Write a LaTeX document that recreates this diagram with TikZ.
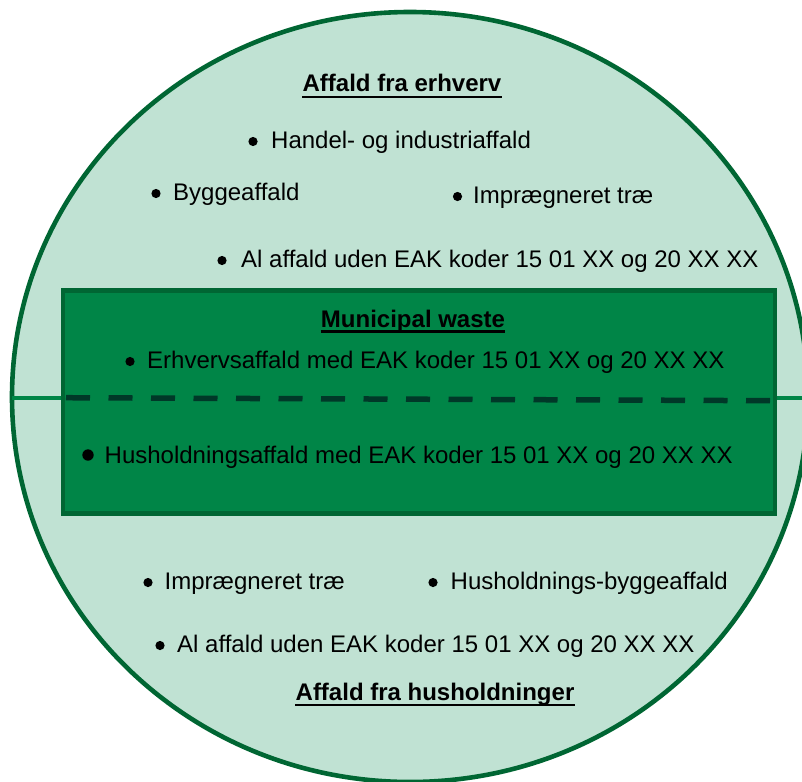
\documentclass[tikz,border=0pt]{standalone}
\usepackage{fontspec}
\setmainfont{Liberation Sans}
\definecolor{lightgreen}{RGB}{192,226,211}
\definecolor{darkgreen}{RGB}{0,102,51}
\definecolor{midgreen}{RGB}{0,133,71}
\definecolor{dashgreen}{RGB}{0,56,40}
\begin{document}
\begin{tikzpicture}[x=1pt,y=-1pt,
  txt/.style={anchor=base west,inner sep=0pt,font=\fontsize{24}{28}\selectfont},
  ttl/.style={anchor=base,inner sep=0pt,font=\fontsize{24}{28}\selectfont\bfseries},
  uline/.style={line width=2.4pt,black},
  bul/.style={fill=black}]
\useasboundingbox (0,0) rectangle (802,781);
\clip (0,0) rectangle (802,781);
% outer circle
\draw[fill=lightgreen,draw=darkgreen,line width=4.6pt] (410,397) ellipse [x radius=398, y radius=385];
\coordinate (hl) at (12,397.7);
\coordinate (hr) at (808,397.7);
\draw[midgreen,line width=3.8pt] (hl) -- (hr);
% municipal box
\node[draw=darkgreen,fill=midgreen,line width=4.5pt,minimum width=712pt,minimum height=223pt,inner sep=0pt,anchor=north west] (box) at (60.5,288) {};
\coordinate (dl) at (62,397.7);
\coordinate (dr) at (772,400.7);
\draw[dashgreen,line width=5.5pt,dash pattern=on 24pt off 18.5pt,dash phase=-4pt] (dl) -- (dr);
% titles
\node[ttl] (t1) at (402,92) {Affald fra erhverv};
\draw[uline] ([yshift=-5pt]t1.base west) -- ([yshift=-5pt]t1.base east);
\node[ttl] (t2) at (413,327) {Municipal waste};
\draw[uline] ([yshift=-4.5pt]t2.base west) -- ([yshift=-4.5pt]t2.base east);
\node[ttl] (t3) at (435,700) {Affald fra husholdninger};
\draw[uline] ([yshift=-5pt]t3.base west) -- ([yshift=-5pt]t3.base east);
% top items
\node[txt] (a1) at (271,148) {Handel- og industriaffald};
\fill[bul] (253,141.5) circle (4.6);
\node[txt] (a2) at (173,200) {Byggeaffald};
\fill[bul] (156,193.5) circle (4.6);
\node[txt] (a3) at (473,203) {Imprægneret træ};
\fill[bul] (457.5,196.5) circle (4.6);
\node[txt] (a4) at (241,267) {Al affald uden EAK koder 15 01 XX og 20 XX XX};
\fill[bul] (222,260.5) circle (4.6);
% box items
\node[txt] (b1) at (147,368) {Erhvervsaffald med EAK koder 15 01 XX og 20 XX XX};
\fill[bul] (130,361.5) circle (4.6);
\node[txt] (b2) at (104.5,463) {Husholdningsaffald med EAK koder 15 01 XX og 20 XX XX};
\fill[bul] (88,455) circle (5.7);
% bottom items
\node[txt] (c1) at (164.5,589) {Imprægneret træ};
\fill[bul] (148,582.5) circle (4.6);
\node[txt] (c2) at (450.5,589) {Husholdnings-byggeaffald};
\fill[bul] (433,582.5) circle (4.6);
\node[txt] (c3) at (177,652) {Al affald uden EAK koder 15 01 XX og 20 XX XX};
\fill[bul] (160,645.5) circle (4.6);
\end{tikzpicture}
\end{document}
